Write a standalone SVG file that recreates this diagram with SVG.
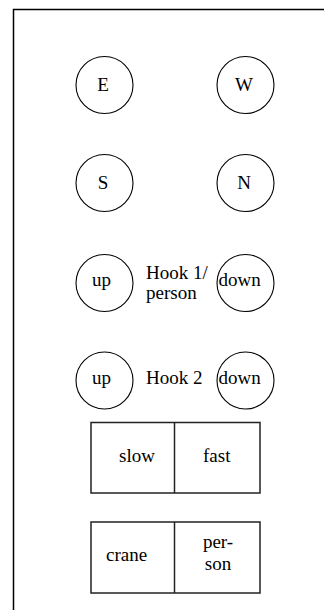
<svg xmlns="http://www.w3.org/2000/svg" width="324" height="610" viewBox="0 0 324 610">
<style>
  .c { fill: #fff; stroke: #000; stroke-width: 1.1; }
  .r { fill: #fff; stroke: #222; stroke-width: 1.5; }
  text { font-family: "Liberation Serif", "Times New Roman", serif; font-size: 19px; fill: #000; }
  .m { text-anchor: middle; }
</style>
<rect width="324" height="610" fill="#fff"/>
<path d="M13.5 610 V9.5 H324" fill="none" stroke="#000" stroke-width="1.5"/>
<g id="btn-E"><circle class="c" cx="104.5" cy="85" r="28.5"/><text class="m" x="103" y="90.5">E</text></g>
<g id="btn-W"><circle class="c" cx="245.5" cy="85" r="28.5"/><text class="m" x="244" y="90.5">W</text></g>
<g id="btn-S"><circle class="c" cx="104.5" cy="183" r="28.5"/><text class="m" x="103" y="188.5">S</text></g>
<g id="btn-N"><circle class="c" cx="245.5" cy="183" r="28.5"/><text class="m" x="244" y="188.5">N</text></g>
<g id="hook1-up"><circle class="c" cx="104.5" cy="283" r="28.5"/><text class="m" x="101.5" y="286">up</text></g>
<g id="hook1-label"><text x="146" y="279">Hook 1/</text><text x="146" y="299">person</text></g>
<g id="hook1-down"><circle class="c" cx="245.5" cy="283" r="28.5"/><text x="218.5" y="286">down</text></g>
<g id="hook2-up"><circle class="c" cx="104.5" cy="380.5" r="28.5"/><text class="m" x="101.5" y="383.5">up</text></g>
<g id="hook2-label"><text x="146" y="384">Hook 2</text></g>
<g id="hook2-down"><circle class="c" cx="245.5" cy="380.5" r="28.5"/><text x="218.5" y="383.5">down</text></g>
<g id="speed">
  <rect class="r" x="91" y="422.5" width="169" height="70.5"/>
  <line x1="174.5" y1="422.5" x2="174.5" y2="493" stroke="#222" stroke-width="1.5"/>
  <text x="119" y="462">slow</text>
  <text x="203" y="462">fast</text>
</g>
<g id="mode">
  <rect class="r" x="91" y="522" width="169" height="71"/>
  <line x1="174.5" y1="522" x2="174.5" y2="593" stroke="#222" stroke-width="1.5"/>
  <text x="106" y="561">crane</text>
  <text class="m" x="218" y="548">per-</text>
  <text class="m" x="218" y="570">son</text>
</g>
<g id="connectors"></g>
</svg>
